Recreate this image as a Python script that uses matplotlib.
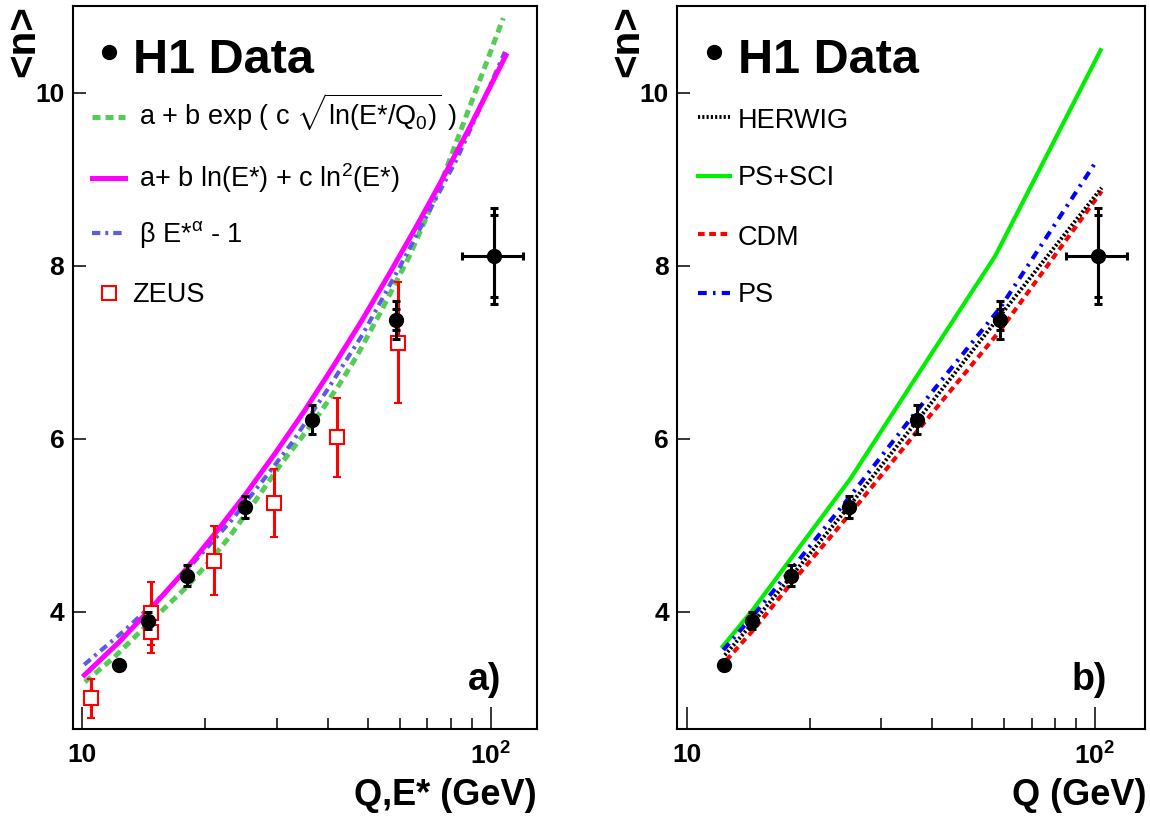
import matplotlib
matplotlib.use('Agg')
import matplotlib.pyplot as plt
from matplotlib.lines import Line2D
from matplotlib.ticker import NullFormatter, NullLocator

plt.rcParams['font.family'] = ['Liberation Sans', 'DejaVu Sans']
plt.rcParams['mathtext.fontset'] = 'custom'
plt.rcParams['mathtext.rm'] = 'Liberation Sans'
plt.rcParams['mathtext.it'] = 'Liberation Sans:italic'
plt.rcParams['mathtext.bf'] = 'Liberation Sans:bold'
plt.rcParams['mathtext.sf'] = 'Liberation Sans'

# ---------------- data ----------------
h1_q = [12.32, 14.46, 18.01, 25.02, 36.58, 58.65]
h1_n = [3.39, 3.90, 4.42, 5.21, 6.22, 7.376]
h1_err = [0.0, 0.10, 0.12, 0.13, 0.17, 0.22]
h1_err_stat = [0.0, 0.0, 0.0, 0.0, 0.0, 0.12]

zeus_e = [10.50, 14.71, 14.71, 21.01, 29.42, 41.96, 59.2]
zeus_n = [3.00, 3.985, 3.77, 4.59, 5.26, 6.015, 7.11]
zeus_err = [0.225, 0.365, 0.25, 0.40, 0.39, 0.46, 0.70]

# example error cross
cross_q = [102.0]
cross_n = [8.11]
cross_qlo = [85.0]
cross_qhi = [120.0]
cross_err_tot = [0.555]
cross_err_stat = [0.47]

# fits (panel a)
fit_exp_e = [10.15, 12.0, 13.71, 15.8, 17.85, 20.2, 22.78, 26.5, 30.77, 34.5, 38.2,
             42.5, 46.97, 53.6, 63.1, 74.1, 89.1, 107.4]
fit_exp_n = [3.19, 3.48, 3.75, 4.03, 4.27, 4.55, 4.85, 5.28, 5.72, 6.02, 6.30,
             6.62, 6.95, 7.45, 8.10, 8.85, 9.85, 10.86]
fit_log_e = [10.12, 12.30, 14.79, 17.78, 21.13, 25.12, 29.65, 35.08, 41.21, 48.42,
             56.62, 66.07, 75.16, 89.13, 109.0]
fit_log_n = [3.27, 3.65, 4.05, 4.47, 4.905, 5.36, 5.83, 6.33, 6.84, 7.37,
             7.915, 8.47, 8.95, 9.61, 10.43]
fit_pow_e = [10.11, 12.72, 15.94, 19.5, 23.22, 27.5, 32.57, 40.0, 48.5, 59.97, 70.0,
             82.6, 95.0, 108.4]
fit_pow_n = [3.39, 3.79, 4.22, 4.66, 5.06, 5.50, 5.95, 6.58, 7.20, 7.99, 8.59,
             9.23, 9.86, 10.47]

# MC predictions (panel b)
herwig_q = [12.4, 14.5, 18.1, 25.0, 36.6, 58.6, 104.0]
herwig_n = [3.50, 3.87, 4.42, 5.22, 6.20, 7.42, 8.90]
pssci_q = [12.25, 14.5, 18.1, 25.2, 36.6, 57.0, 103.4]
pssci_n = [3.60, 4.02, 4.63, 5.54, 6.72, 8.11, 10.49]
cdm_q = [12.5, 14.5, 18.1, 25.0, 36.6, 58.6, 104.0]
cdm_n = [3.44, 3.78, 4.34, 5.12, 6.08, 7.25, 8.86]
ps_q = [12.3, 14.5, 18.1, 25.0, 36.6, 58.6, 101.0]
ps_n = [3.56, 3.95, 4.50, 5.32, 6.32, 7.51, 9.21]

x_major = [10, 100]
x_major_labels = ['10', r'$\mathbf{10^{2}}$']
x_minor = [20, 30, 40, 50, 60, 70, 80, 90]
y_major = [4, 6, 8, 10]
y_major_labels = ['4', '6', '8', '10']

legend_a = [r'a + b exp ( c $\sqrt{\mathrm{ln(E{*}/Q_{0})}}$ )',
            r'a+ b ln(E*) + c ln$^{\mathrm{2}}$(E*)',
            r'β E*$^{\mathrm{α}}$ - 1',
            'ZEUS']
legend_b = ['HERWIG', 'PS+SCI', 'CDM', 'PS']

# ---------------- styles ----------------
W, H = 1150, 816
def fx(px):
    return px / W
def fy(py):
    return 1 - py / H

c_green_a = '#55cc55'
c_mag = '#ff00ff'
c_blue_a = '#5b5be6'
c_green_b = '#00ee00'
c_red = '#ff0000'
c_blue_b = '#0000ff'

sty_exp = dict(color=c_green_a, lw=3.6, dashes=(1.6, 1.0))
sty_log = dict(color=c_mag, lw=3.6)
sty_pow = dict(color=c_blue_a, lw=3.0, dashes=(2.0, 1.2, 0.7, 1.2))
sty_herwig = dict(color='black', lw=2.8, dashes=(0.55, 0.55))
sty_pssci = dict(color=c_green_b, lw=3.0)
sty_cdm = dict(color=c_red, lw=3.0, dashes=(1.6, 1.1))
sty_ps = dict(color=c_blue_b, lw=3.0, dashes=(2.1, 1.5, 0.6, 1.5))

fig = plt.figure(figsize=(W / 100, H / 100), dpi=100)
axL = fig.add_axes([fx(72.7), fy(729), 464.6 / W, 723 / H])
axR = fig.add_axes([fx(677.3), fy(729), 467.7 / W, 723 / H])


def style_axes(ax, xlim, ypad):
    ax.set_xscale('log')
    ax.set_xlim(*xlim)
    ax.set_ylim(2.647, 11.0)
    ax.set_xticks(x_major)
    ax.set_xticklabels(x_major_labels)
    ax.set_xticks(x_minor, minor=True)
    ax.xaxis.set_minor_formatter(NullFormatter())
    ax.set_yticks(y_major)
    ax.set_yticklabels(y_major_labels)
    ax.yaxis.set_minor_locator(NullLocator())
    ax.tick_params(axis='x', which='major', direction='in', length=15.8, width=1.1,
                   pad=10, labelsize=19)
    ax.tick_params(axis='x', which='minor', direction='in', length=8, width=1.1)
    ax.tick_params(axis='y', which='major', direction='in', length=9, width=1.1,
                   pad=ypad, labelsize=19)
    for lbl in ax.get_xticklabels() + ax.get_yticklabels():
        lbl.set_fontweight('bold')
    for s in ax.spines.values():
        s.set_linewidth(1.5)


def draw_h1(ax):
    ax.errorbar(h1_q, h1_n, yerr=h1_err, fmt='o', color='black', ms=10,
                elinewidth=2.2, capsize=2.6, capthick=2.2, zorder=6)
    ax.errorbar(h1_q, h1_n, yerr=h1_err_stat, fmt='none', ecolor='black',
                elinewidth=2.2, capsize=2.6, capthick=2.2, zorder=5)
    xl = [cross_q[0] - cross_qlo[0]]
    xh = [cross_qhi[0] - cross_q[0]]
    ax.errorbar(cross_q, cross_n, xerr=[xl, xh], yerr=cross_err_tot, fmt='o',
                color='black', ms=10, elinewidth=2.2, capsize=2.6, capthick=2.2, zorder=6)
    ax.errorbar(cross_q, cross_n, yerr=cross_err_stat, fmt='none', ecolor='black',
                elinewidth=2.2, capsize=2.6, capthick=2.2, zorder=5)


# ---------------- panel a ----------------
style_axes(axL, (9.474, 130.1), 6)
axL.plot(fit_exp_e, fit_exp_n, zorder=2, **sty_exp)
axL.plot(fit_pow_e, fit_pow_n, zorder=2, **sty_pow)
axL.plot(fit_log_e, fit_log_n, zorder=3, **sty_log)
axL.errorbar(zeus_e, zeus_n, yerr=zeus_err, fmt='s', color=c_red, mfc='white',
             mec=c_red, mew=1.5, ms=10.5, elinewidth=2.2, capsize=2.6, capthick=2.2,
             zorder=4)
draw_h1(axL)

# ---------------- panel b ----------------
style_axes(axR, (9.483, 132.8), 6)
axR.plot(pssci_q, pssci_n, zorder=2, **sty_pssci)
axR.plot(cdm_q, cdm_n, zorder=2, **sty_cdm)
axR.plot(ps_q, ps_n, zorder=2, **sty_ps)
axR.plot(herwig_q, herwig_n, zorder=3, **sty_herwig)
draw_h1(axR)

# ---------------- annotations ----------------
for xdot, xtxt in [(109, 133), (714.4, 737.8)]:
    fig.add_artist(Line2D([fx(xdot)], [fy(52)], marker='o', ms=10, color='black',
                          transform=fig.transFigure))
    fig.text(fx(xtxt), fy(73.3), 'H1 Data', fontsize=35, fontweight='bold',
             va='baseline', ha='left')

for xc in [23, 627]:
    fig.text(fx(xc), fy(5), '<n>', rotation=90, fontsize=29, fontweight='bold',
             ha='center', va='top')

fig.text(fx(537), fy(805), 'Q,E* (GeV)', fontsize=26, fontweight='bold',
         ha='right', va='baseline')
fig.text(fx(1146), fy(805), 'Q (GeV)', fontsize=26, fontweight='bold',
         ha='right', va='baseline')
fig.text(fx(501.7), fy(690), 'a)', fontsize=27, fontweight='bold',
         ha='right', va='baseline')
fig.text(fx(1106.7), fy(690), 'b)', fontsize=27, fontweight='bold',
         ha='right', va='baseline')

# legend panel a
leg_a_lines = [(117, sty_exp, 125), (178, sty_log, 187), (233, sty_pow, 242)]
for (yl, sty, yb), txt in zip(leg_a_lines, legend_a[:3]):
    fig.add_artist(Line2D([fx(92), fx(125)], [fy(yl), fy(yl)],
                          transform=fig.transFigure, **sty))
    fig.text(fx(139), fy(yb), txt, fontsize=19.5, va='baseline', ha='left')
fig.add_artist(Line2D([fx(109)], [fy(293)], marker='s', ms=10, mfc='white',
                      mec=c_red, mew=1.5, transform=fig.transFigure))
fig.text(fx(132), fy(302), legend_a[3], fontsize=19.5, va='baseline', ha='left')

# legend panel b
leg_b_lines = [(117, sty_herwig, 128.3), (176, sty_pssci, 185),
               (234.3, sty_cdm, 245), (293.3, sty_ps, 302)]
for (yl, sty, yb), txt in zip(leg_b_lines, legend_b):
    fig.add_artist(Line2D([fx(697.6), fx(729.7)], [fy(yl), fy(yl)],
                          transform=fig.transFigure, **sty))
    fig.text(fx(737.8), fy(yb), txt, fontsize=19.5, va='baseline', ha='left')

fig.savefig('out.png', dpi=100)
